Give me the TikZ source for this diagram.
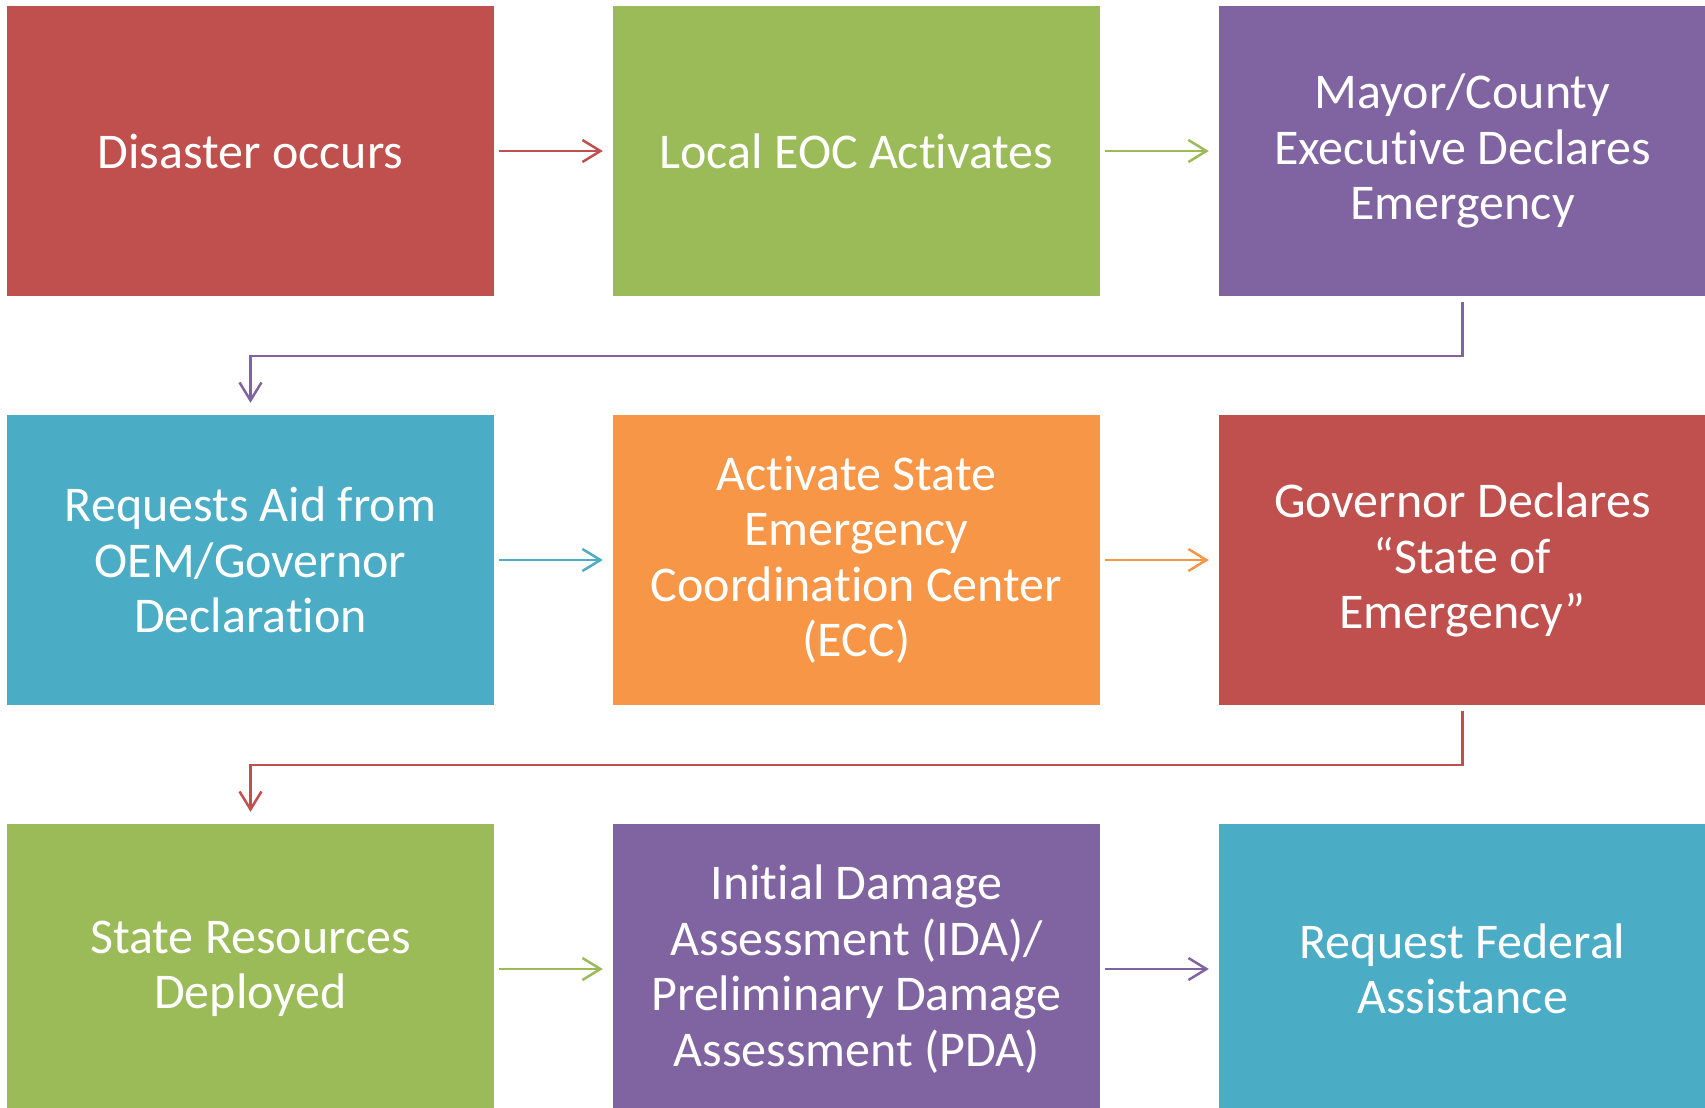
\documentclass[tikz,border=0pt]{standalone}
\usepackage{fontspec}
\setmainfont{Carlito}[Ligatures=NoCommon]
\usetikzlibrary{arrows.meta}
\definecolor{cred}{HTML}{C0504D}
\definecolor{cgreen}{HTML}{9BBB59}
\definecolor{cpurple}{HTML}{8064A2}
\definecolor{cblue}{HTML}{4BACC6}
\definecolor{corange}{HTML}{F79646}
\tikzset{
  box/.style={fill=#1, draw=none, minimum width=487pt, minimum height=290pt, inner sep=0pt,
    text=white, align=center, font=\fontsize{50}{55.5}\selectfont},
  conn/.style={draw=#1, line width=2.5pt, -{Straight Barb[length=18pt,width=22pt,line width=2.5pt]}},
}
\begin{document}
\begin{tikzpicture}[x=1pt,y=-1pt]
\useasboundingbox (0,0) rectangle (1705,1108);
\begin{scope}
\clip (0,0) rectangle (1705,1108);
\node[box=cred] (b1) at (250.5,151) {Disaster occurs};
\node[box=cgreen] (b2) at (856.5,151) {Local EOC Activates};
\node[box=cpurple] (b3) at (1462.5,151) {Mayor/County\\Executive Declares\\Emergency};
\node[box=cblue] (b4) at (250.5,560) {Requests Aid from\\OEM/Governor\\Declaration};
\node[box=corange] (b5) at (856.5,560) {Activate State\\Emergency\\Coordination Center\\(ECC)};
\node[box=cred] (b6) at (1462.5,560) {Governor Declares\\“State of\\Emergency”};
\node[box=cgreen] (b7) at (250.5,969) {State Resources\\Deployed};
\node[box=cpurple] (b8) at (856.5,969) {Initial Damage\\Assessment (IDA)/\\Preliminary Damage\\Assessment (PDA)};
\node[box=cblue] (b9) at (1462.5,969) {Request Federal\\Assistance};
\end{scope}
\draw[conn=cred] ([xshift=5pt]b1.east) -- ([xshift=-10pt]b2.west);
\draw[conn=cgreen] ([xshift=5pt]b2.east) -- ([xshift=-10pt]b3.west);
\draw[conn=cblue] ([xshift=5pt]b4.east) -- ([xshift=-10pt]b5.west);
\draw[conn=corange] ([xshift=5pt]b5.east) -- ([xshift=-10pt]b6.west);
\draw[conn=cgreen] ([xshift=5pt]b7.east) -- ([xshift=-10pt]b8.west);
\draw[conn=cpurple] ([xshift=5pt]b8.east) -- ([xshift=-10pt]b9.west);
\draw[conn=cpurple] ([yshift=-6pt]b3.south) -- ++(0,54) -| ([yshift=12pt]b4.north);
\draw[conn=cred] ([yshift=-6pt]b6.south) -- ++(0,54) -| ([yshift=12pt]b7.north);
\end{tikzpicture}
\end{document}
